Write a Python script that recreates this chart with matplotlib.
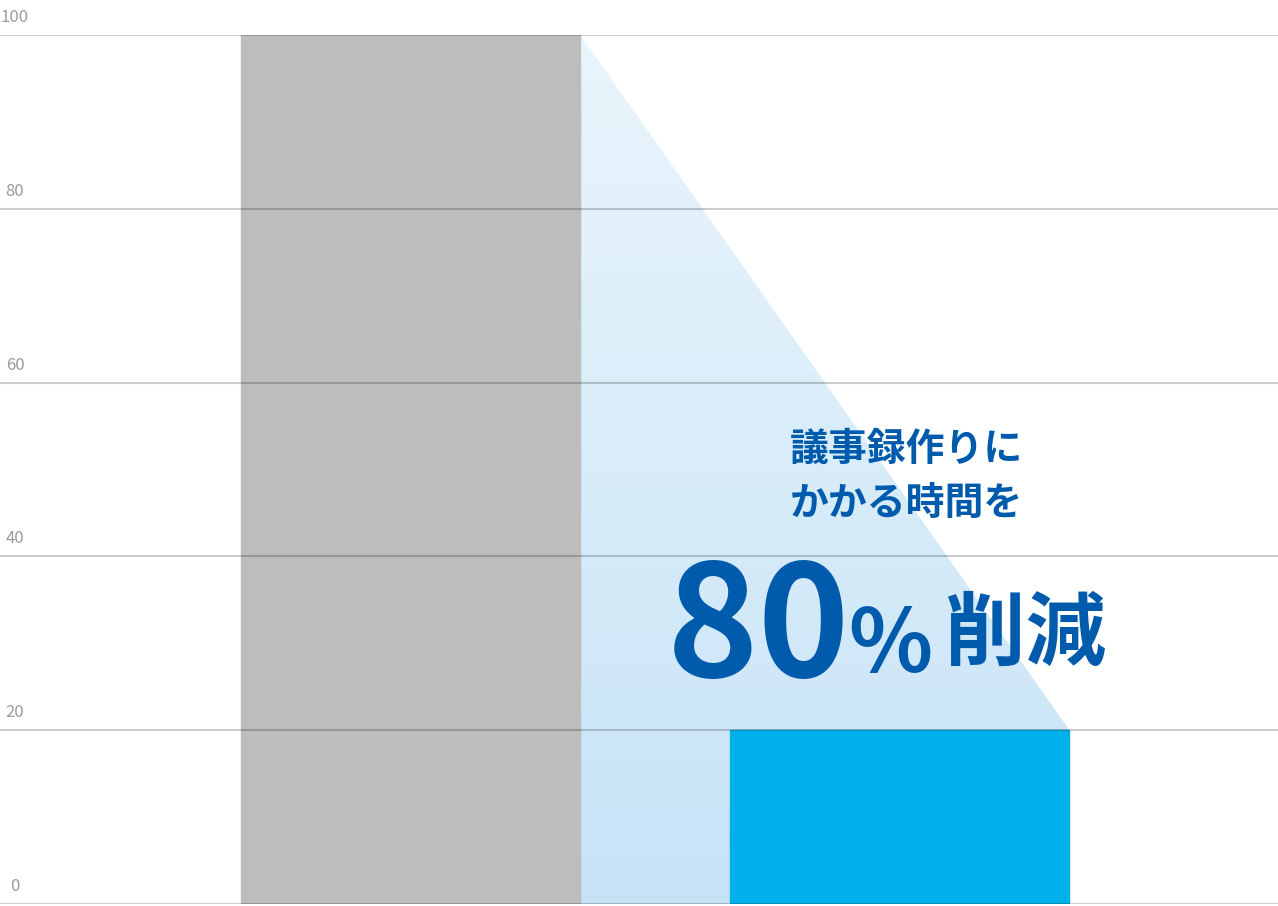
import numpy as np
import matplotlib.pyplot as plt
from matplotlib.patches import Polygon

categories = ["before", "after"]
values = [100, 20]
yticks = [0, 20, 40, 60, 80, 100]
headline = ["議事録作りに", "かかる時間を"]
big_number = "80"
big_unit = "%"
big_word = "削減"

W, H = 1278, 906
plt.rcParams["font.family"] = ["Noto Sans CJK JP", "DejaVu Sans"]

fig = plt.figure(figsize=(W / 100, H / 100), dpi=100)
ax = fig.add_axes([0, 2 / H, 1, (904 - 35) / H])

x = np.arange(len(categories))
width = 0.693
bar_colors = ["#bdbdbd", "#00b0ea"]
ax.bar(x, values, width=width, color=bar_colors, edgecolor=bar_colors,
       lw=1, zorder=2)

ax.set_xlim(-0.840, 1.773)
ax.set_ylim(0, 100)

# light blue gradient wedge from the top of the first bar to the top of the second
right0 = x[0] + width / 2
right1 = x[1] + width / 2
verts = [(right0, values[0]), (right1, values[1]), (right1, 0), (right0, 0)]
poly = Polygon(verts, closed=True, facecolor="none", edgecolor="none")
ax.add_patch(poly)
grad = np.linspace(0, 1, 256).reshape(-1, 1)
top = np.array([0xEA, 0xF5, 0xFC]) / 255
bot = np.array([0xC6, 0xE3, 0xF6]) / 255
img = top + (bot - top) * grad[..., None]
im = ax.imshow(
    img,
    extent=[right0, right1, 0, values[0]],
    origin="upper",
    aspect="auto",
    zorder=1,
    interpolation="bilinear",
)
im.set_clip_path(poly)

for t in yticks:
    ax.axhline(t, color="black", alpha=0.2, lw=1.5, zorder=3)
    ax.annotate(
        str(t),
        xy=(0, t),
        xycoords=("axes fraction", "data"),
        xytext=(15, 13),
        textcoords="offset pixels",
        ha="center",
        va="baseline",
        fontsize=12,
        color="#9a9a9a",
        annotation_clip=False,
    )

ax.axis("off")

blue = "#005bac"
fig.text(906 / W, 1 - 449 / H, headline[0], ha="center", va="center",
         fontsize=28, fontweight="bold", color=blue)
fig.text(906 / W, 1 - 503 / H, headline[1], ha="center", va="center",
         fontsize=28, fontweight="bold", color=blue)
fig.text(758 / W, 1 - 677 / H, big_number, ha="center", va="baseline",
         fontsize=112, fontweight="bold", color=blue)
fig.text(890 / W, 1 - 672 / H, big_unit, ha="center", va="baseline",
         fontsize=63, fontweight="bold", color=blue)
fig.text(1026 / W, 1 - 635 / H, big_word, ha="center", va="center",
         fontsize=58, fontweight="bold", color=blue)

fig.savefig("out.png", dpi=100)
